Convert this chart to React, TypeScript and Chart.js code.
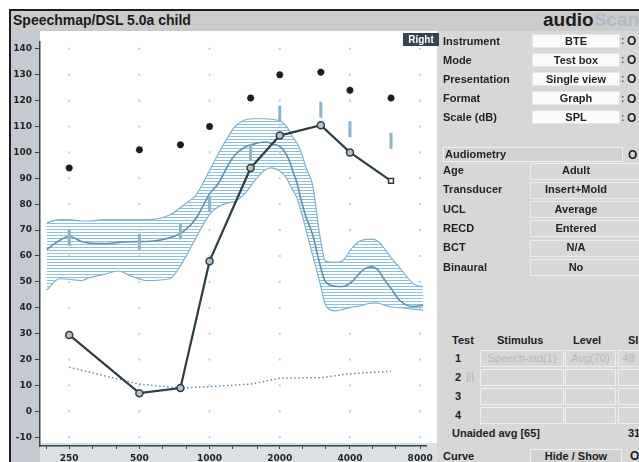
import React, { useEffect, useRef } from 'react';
import { Chart, registerables } from 'chart.js';

Chart.register(...registerables);

// ---- chart data ----
const testFreqs = [250, 500, 750, 1000, 1500, 2000, 3000, 4000, 6000];
const uclValues = [94, 101, 103, 110, 121, 130, 131, 124, 121];
const aidedValues = [29.5, 7, 9, 58, 94, 106.5, 110.5, 100, 89];
const targetValues = [67, 65.5, 69.5, 80, 100, 115, 116.5, 109, 104.5];
const thresholdValues = [17, 10.5, 9, 9.5, 10.5, 12.8, 13, 14.5, 15.5];

const bandFreqs = [200, 227, 250, 283, 303, 357, 405, 459, 540, 674, 771, 874, 1000, 1090, 1200, 1284, 1414, 1560, 1715, 1834, 2020, 2139, 2224, 2288, 2356, 2472, 2594, 2773, 2968, 3144, 3463, 3703, 4079, 4362, 4621, 4945, 5289, 5603, 5993, 6598, 7479, 8236];
const bandUpper = [72.8, 74, 74, 73.5, 73.5, 74, 74, 74, 74, 75.8, 79.6, 83.5, 93, 99.5, 106, 110, 112.5, 113, 113, 112.8, 112, 110, 107.5, 105.5, 104, 100, 94, 87, 68, 58, 57.5, 58, 63, 65.5, 66.3, 66.5, 65.6, 63, 59.5, 55, 49.3, 48];
const bandMiddle = [62.5, 66, 67.5, 65.6, 65, 64.8, 65.2, 65.5, 65.6, 67, 69.4, 74.5, 84, 88, 95, 99, 102, 103.3, 104, 103.5, 102, 99, 95.5, 92, 89, 81.4, 75, 68, 57, 50, 48.3, 48.2, 50, 53, 55, 55.8, 54.5, 51, 47.5, 42.5, 40.5, 41];
const bandLower = [46.7, 51.2, 51, 50.5, 51.5, 53, 54.2, 52.3, 50.5, 51.2, 58, 67, 76, 79, 80.5, 81, 84, 89, 93, 94, 92.5, 90, 87, 85, 83, 77, 70, 60, 50, 41, 38.8, 39.3, 40.3, 40.6, 41.2, 41.8, 41.8, 41, 40.3, 40, 39.5, 39];

const yTickValues = [-10, 0, 10, 20, 30, 40, 50, 60, 70, 80, 90, 100, 110, 120, 130, 140];
const xTickFreqs = [200, 250, 315, 400, 500, 630, 800, 1000, 1250, 1600, 2000, 2500, 3150, 4000, 5000, 6300, 8000];
const xLabelFreqs = [250, 500, 1000, 2000, 4000, 8000];

// ---- panel text ----
const setupLabels = ['Instrument', 'Mode', 'Presentation', 'Format', 'Scale (dB)'];
const setupValues = ['BTE', 'Test box', 'Single view', 'Graph', 'SPL'];
const audioLabels = ['Age', 'Transducer', 'UCL', 'RECD', 'BCT', 'Binaural'];
const audioValues = ['Adult', 'Insert+Mold', 'Average', 'Entered', 'N/A', 'No'];
const testHeaders = ['Test', 'Stimulus', 'Level', 'SII'];
const testRows = [
  ['1', 'Speech-std(1)', 'Avg(70)', '48'],
  ['2', '', '', ''],
  ['3', '', '', ''],
  ['4', '', '', ''],
];

const FONT = '"Liberation Sans", Arial, sans-serif';
const dark = '#1d2226';

function T(props: { x: number; cy: number; size?: number; color?: string; children: any; w?: number; align?: any; bold?: boolean }) {
  const size = props.size ?? 11;
  return (
    <div
      style={{
        position: 'absolute',
        left: props.x,
        top: props.cy - size * 0.5,
        width: props.w,
        textAlign: props.align ?? 'left',
        fontSize: size,
        lineHeight: 1,
        fontWeight: props.bold === false ? 'normal' : 'bold',
        color: props.color ?? dark,
        whiteSpace: 'nowrap',
      }}
    >
      {props.children}
    </div>
  );
}

function Box(props: { x: number; y: number; w: number; h: number; bg?: string; border?: string }) {
  return (
    <div
      style={{
        position: 'absolute',
        left: props.x,
        top: props.y,
        width: props.w,
        height: props.h,
        boxSizing: 'border-box',
        background: props.bg ?? 'transparent',
        border: '1px solid ' + (props.border ?? '#eeeeee'),
      }}
    />
  );
}

export default function App() {
  const ref = useRef<HTMLCanvasElement>(null);

  useEffect(() => {
    const canvas = ref.current!;
    const pc = document.createElement('canvas');
    pc.width = 4;
    pc.height = 3;
    const pctx = pc.getContext('2d')!;
    pctx.fillStyle = '#8fc0dd';
    pctx.fillRect(0, 0, 4, 1);
    const hatch = canvas.getContext('2d')!.createPattern(pc, 'repeat');

    const pts = (xs: number[], ys: number[]) => xs.map((x, i) => ({ x, y: ys[i] }));

    const plotBg = {
      id: 'plotBg',
      beforeDraw(chart: any) {
        const { ctx, chartArea: a } = chart;
        ctx.save();
        ctx.fillStyle = '#ffffff';
        ctx.fillRect(a.left, a.top, a.right - a.left, a.bottom - a.top - 3);
        ctx.restore();
      },
    };
    const gridDots = {
      id: 'gridDots',
      beforeDatasetsDraw(chart: any) {
        const { ctx } = chart;
        const xs = chart.scales.x;
        const ys = chart.scales.y;
        ctx.save();
        ctx.fillStyle = 'rgba(120,170,215,0.55)';
        xLabelFreqs.forEach((f) => {
          yTickValues.forEach((v) => {
            const px = xs.getPixelForValue(f);
            const py = ys.getPixelForValue(v);
            ctx.fillRect(px - 1, py - 1, 2, 2);
          });
        });
        ctx.restore();
      },
    };

    const tickFont = { family: '"DejaVu Sans", Verdana, sans-serif', size: 9, weight: 'bold' as const };

    const chart = new Chart(canvas, {
      type: 'line',
      data: {
        datasets: [
          {
            data: pts(bandFreqs, bandUpper),
            borderColor: '#7fb2d2',
            borderWidth: 1.2,
            backgroundColor: hatch as any,
            fill: '+1',
            cubicInterpolationMode: 'monotone',
            pointRadius: 0,
            order: 10,
          },
          {
            data: pts(bandFreqs, bandLower),
            borderColor: '#7fb2d2',
            borderWidth: 1.2,
            fill: false,
            cubicInterpolationMode: 'monotone',
            pointRadius: 0,
            order: 9,
          },
          {
            data: pts(bandFreqs, bandMiddle),
            borderColor: '#5f8fb2',
            borderWidth: 1.6,
            fill: false,
            cubicInterpolationMode: 'monotone',
            pointRadius: 0,
            order: 8,
          },
          {
            data: pts(testFreqs, thresholdValues),
            borderColor: '#5f8db0',
            borderWidth: 1.5,
            borderDash: [1.5, 2.5],
            fill: false,
            tension: 0,
            pointRadius: 0,
            order: 7,
          },
          {
            data: pts(testFreqs, targetValues),
            showLine: false,
            pointStyle: 'line',
            rotation: 90,
            pointRadius: 8,
            pointBorderWidth: 3,
            pointBorderColor: '#8db3cd',
            order: 6,
          },
          {
            data: pts(testFreqs, uclValues),
            showLine: false,
            pointStyle: 'star',
            pointRadius: 3.5,
            pointBorderWidth: 2.2,
            pointBorderColor: '#1a1f22',
            order: 5,
          },
          {
            data: pts(testFreqs, aidedValues),
            borderColor: '#2e3d45',
            borderWidth: 2.2,
            fill: false,
            tension: 0,
            pointStyle: testFreqs.map((f, i) => (i === testFreqs.length - 1 ? 'rect' : 'circle')) as any,
            pointRadius: 3.5,
            pointBorderWidth: 1.5,
            pointBorderColor: '#2e3d45',
            pointBackgroundColor: testFreqs.map((f, i) => (i === testFreqs.length - 1 ? '#ffffff' : '#b7c1c6')),
            order: 1,
          },
        ],
      },
      options: {
        responsive: false,
        animation: false,
        devicePixelRatio: 1,
        layout: { padding: { top: 2, right: 1, left: 0, bottom: 0 } },
        plugins: {
          legend: { display: false },
          tooltip: { enabled: false },
        },
        scales: {
          x: {
            type: 'logarithmic',
            min: 187.4,
            max: 8476,
            afterBuildTicks: (s: any) => {
              s.ticks = xTickFreqs.map((v) => ({ value: v }));
            },
            afterFit: (s: any) => {
              s.height = 16;
            },
            grid: { drawOnChartArea: false, drawTicks: true, tickLength: 3, color: '#34444e', tickColor: '#34444e' },
            border: { display: true, color: '#34444e', width: 1.5 },
            ticks: {
              autoSkip: false,
              maxRotation: 0,
              minRotation: 0,
              padding: 4,
              font: tickFont,
              color: dark,
              callback: (v: any) => (xLabelFreqs.includes(Number(v)) ? String(v) : ''),
            },
          },
          y: {
            type: 'linear',
            min: -13.4,
            max: 142.64,
            afterBuildTicks: (s: any) => {
              s.ticks = yTickValues.map((v) => ({ value: v }));
            },
            afterFit: (s: any) => {
              s.width = 30;
            },
            grid: { drawOnChartArea: false, drawTicks: true, tickLength: 5, color: '#34444e', tickColor: '#34444e' },
            border: { display: true, color: '#34444e', width: 1.5 },
            ticks: { padding: 3, font: tickFont, color: dark, callback: (v: any) => String(v) },
          },
        },
      },
      plugins: [plotBg, gridDots],
    } as any);

    return () => chart.destroy();
  }, []);

  return (
    <div
      style={{
        position: 'fixed',
        left: 0,
        top: 0,
        width: 639,
        height: 462,
        overflow: 'hidden',
        background: '#ffffff',
        fontFamily: FONT,
      }}
    >
      {/* frame */}
      <div style={{ position: 'absolute', left: 9, top: 9, width: 640, height: 460, borderTop: '2px solid #1e1e1e', borderLeft: '2px solid #1e1e1e' }} />
      {/* title bar */}
      <div style={{ position: 'absolute', left: 11, top: 11, width: 628, height: 20, background: '#cbcbcb' }} />
      <T x={13} cy={20} size={14} color="#1a1a1a">Speechmap/DSL 5.0a child</T>
      <div style={{ position: 'absolute', left: 543, top: 10, fontSize: 19, lineHeight: 1, fontWeight: 'bold', whiteSpace: 'nowrap' }}>
        <span style={{ color: '#1c1c1c' }}>audio</span>
        <span style={{ color: '#b3bac2' }}>Scan</span>
      </div>
      {/* left & bottom strips */}
      <div style={{ position: 'absolute', left: 11, top: 31, width: 29, height: 431, background: '#c5cad0' }} />
      <div style={{ position: 'absolute', left: 40, top: 443, width: 397, height: 19, background: '#dcdfe2' }} />
      {/* right panel */}
      <div style={{ position: 'absolute', left: 437, top: 31, width: 202, height: 431, background: '#d7d7d7' }} />

      <canvas ref={ref} width={427} height={431} style={{ position: 'absolute', left: 10, top: 31, width: 427, height: 431 }} />

      {/* Right tag */}
      <div style={{ position: 'absolute', left: 403, top: 33, width: 36, height: 13, background: '#34444e' }} />
      <T x={403} cy={40} w={36} align="center" size={10} color="#ffffff">Right</T>

      {setupLabels.map((l, i) => {
        const cy = 41 + i * 19.2;
        return (
          <React.Fragment key={l}>
            <T x={443} cy={cy}>{l}</T>
            <Box x={532} y={cy - 7.5} w={88} h={14} bg="#fbfbfb" border="#e6e6e6" />
            <T x={532} cy={cy} w={88} align="center">{setupValues[i]}</T>
            <T x={621} cy={cy} size={10} color="#555">:</T>
            <T x={627} cy={cy} size={12} color="#222">O</T>
          </React.Fragment>
        );
      })}

      <Box x={443} y={147} w={180} h={15} bg="#d2d2d2" border="#f0f0f0" />
      <T x={445} cy={154.5}>Audiometry</T>
      <T x={628} cy={154.5} size={12} color="#222">O</T>

      {audioLabels.map((l, i) => {
        const cy = 170.5 + i * 19.3;
        return (
          <React.Fragment key={l}>
            <T x={443} cy={cy}>{l}</T>
            <Box x={530} y={cy - 8} w={112} h={17} border="#ececec" />
            <T x={530} cy={cy} w={92} align="center">{audioValues[i]}</T>
          </React.Fragment>
        );
      })}

      <T x={452} cy={340}>{testHeaders[0]}</T>
      <T x={497} cy={340}>{testHeaders[1]}</T>
      <T x={573} cy={340}>{testHeaders[2]}</T>
      <T x={628} cy={340}>{testHeaders[3]}</T>
      {testRows.map((r, i) => {
        const cy = 358 + i * 19;
        return (
          <React.Fragment key={r[0]}>
            <T x={455} cy={cy}>{r[0]}</T>
            {i === 1 ? <T x={466} cy={cy} size={10} color="#b0b0b0" bold={false}>|||</T> : null}
            <Box x={480} y={cy - 8} w={84} h={17} border="#efefef" />
            <Box x={565} y={cy - 8} w={51} h={17} border="#efefef" />
            <Box x={618} y={cy - 8} w={24} h={17} border="#efefef" />
            <T x={480} cy={cy} w={84} align="center" color="#b9b9b9" bold={false}>{r[1]}</T>
            <T x={565} cy={cy} w={51} align="center" color="#b9b9b9" bold={false}>{r[2]}</T>
            <T x={618} cy={cy} w={21} align="center" color="#b9b9b9" bold={false}>{r[3]}</T>
          </React.Fragment>
        );
      })}
      <T x={452} cy={433}>Unaided avg [65]</T>
      <T x={628} cy={433}>31</T>
      <T x={443} cy={456}>Curve</T>
      <Box x={530} y={449} w={92} h={15} bg="#d2d2d2" border="#f0f0f0" />
      <T x={530} cy={456} w={92} align="center">Hide / Show</T>
      <T x={630} cy={456} size={12} color="#222">O</T>
    </div>
  );
}
